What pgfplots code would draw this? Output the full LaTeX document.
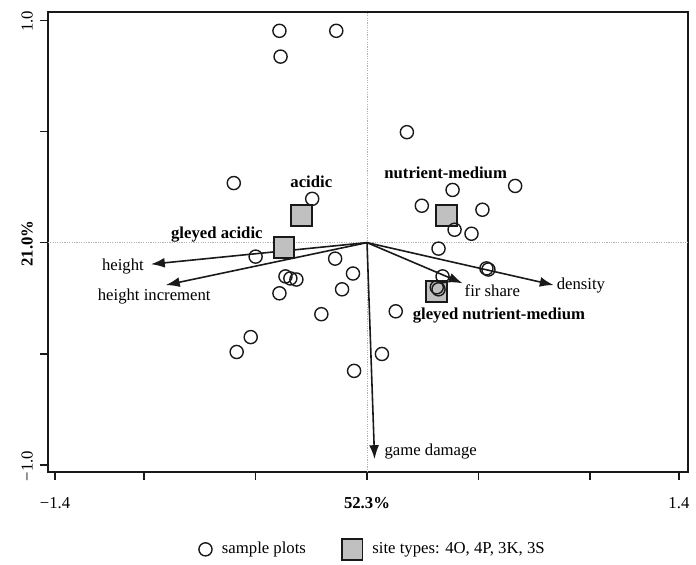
\documentclass[border=0pt]{standalone}
\usepackage{pgfplots}
\pgfplotsset{compat=1.18}
\usetikzlibrary{arrows.meta}
\usepackage{fontspec}
\setmainfont{Liberation Serif}
\definecolor{sqfill}{RGB}{192,192,192}
\definecolor{ink}{RGB}{25,25,25}

\pgfplotstableread{
x y
-0.393 0.953
-0.138 0.953
-0.388 0.837
0.179 0.497
-0.598 0.268
-0.246 0.197
0.665 0.255
0.384 0.237
0.246 0.166
0.518 0.148
0.393 0.058
0.469 0.040
0.321 -0.027
-0.500 -0.063
-0.143 -0.072
-0.366 -0.152
-0.344 -0.161
-0.317 -0.166
-0.063 -0.139
-0.112 -0.210
-0.393 -0.228
0.536 -0.116
0.545 -0.121
0.339 -0.152
0.313 -0.201
0.321 -0.210
0.129 -0.309
-0.205 -0.322
-0.522 -0.425
-0.585 -0.492
0.067 -0.501
-0.058 -0.577
}\plots

\pgfplotstableread{
x y
-0.293 0.122
-0.372 -0.022
0.357 0.121
0.313 -0.219
}\sites

\begin{document}
\begin{tikzpicture}[font=\fontsize{8.4}{10}\selectfont]
\begin{axis}[name=ax, scale only axis, width=322pt, height=231.5pt,
  xmin=-1.433, xmax=1.442, ymin=-1.034, ymax=1.038,
  axis line style={line width=1pt, ink},
  tick style={line width=0.75pt, ink},
  tick align=outside, major tick length=4pt,
  xtick pos=left, ytick pos=left,
  xtick={-1.4,-1,-0.5,0,0.5,1,1.4},
  xticklabels={−1.4,,,\textbf{52.3\%},,,1.4},
  ytick={-1,-0.5,0,0.5,1},
  yticklabels={−1.0,,\textbf{21.0\%},,1.0},
  yticklabel style={rotate=90, anchor=south, xshift=-0.5pt},
  xticklabel style={yshift=-5pt},
  clip=false,
  reverse legend,
  legend style={at={(0.509,-0.167)}, anchor=center, draw=none, fill=none,
    legend columns=2,
    /tikz/every odd column/.append style={column sep=3pt},
    /tikz/every even column/.append style={column sep=16pt}},
]
\draw[gray!60, line width=0.4pt, dash pattern=on 0.6pt off 0.6pt] (axis cs:0,-1.034) -- (axis cs:0,1.038);
\draw[gray!60, line width=0.4pt, dash pattern=on 0.6pt off 0.6pt] (axis cs:-1.433,0) -- (axis cs:1.442,0);

\addplot[only marks, mark=square*, mark size=5.2pt,
  mark options={fill=sqfill, draw=ink, line width=1pt}] table {\sites};
\addlegendentry{site types: 4O, 4P, 3K, 3S}
\addplot[only marks, mark=o, mark size=3.3pt,
  mark options={draw=ink, line width=0.7pt}] table {\plots};
\addlegendentry{sample plots}

\pgfplotsset{every axis plot/.append style={forget plot}}
\addplot[line width=0.8pt, ink, -{Latex[length=7pt,width=5pt]}] coordinates {(0,0) (-0.970,-0.097)};
\addplot[line width=0.8pt, ink, -{Latex[length=7pt,width=5pt]}] coordinates {(0,0) (-0.903,-0.191)};
\addplot[line width=0.8pt, ink, -{Latex[length=7pt,width=5pt]}] coordinates {(0,0) (0.429,-0.183)};
\addplot[line width=0.8pt, ink, -{Latex[length=7pt,width=5pt]}] coordinates {(0,0) (0.838,-0.191)};
\addplot[line width=0.8pt, ink, -{Latex[length=7pt,width=5pt]}] coordinates {(0,0) (0.034,-0.974)};

\node[inner sep=0, anchor=east] at (axis cs:-1.0,-0.107) {height};
\node[inner sep=0] at (axis cs:-0.955,-0.242) {height increment};
\node[inner sep=0] at (axis cs:0.5625,-0.215) {fir share};
\node[inner sep=0] at (axis cs:0.960,-0.192) {density};
\node[inner sep=0] at (axis cs:0.286,-0.940) {game damage};
\node[inner sep=0, font=\fontsize{8.4}{10}\selectfont\bfseries] at (axis cs:-0.25,0.273) {acidic};
\node[inner sep=0, font=\fontsize{8.4}{10}\selectfont\bfseries] at (axis cs:-0.674,0.036) {gleyed acidic};
\node[inner sep=0, font=\fontsize{8.4}{10}\selectfont\bfseries] at (axis cs:0.353,0.313) {nutrient-medium};
\node[inner sep=0, font=\fontsize{8.4}{10}\selectfont\bfseries] at (axis cs:0.592,-0.327) {gleyed nutrient-medium};
\end{axis}
\path ([shift={(-24pt,-43pt)}]ax.south west) rectangle ([shift={(2pt,6pt)}]ax.north east);
\end{tikzpicture}
\end{document}
